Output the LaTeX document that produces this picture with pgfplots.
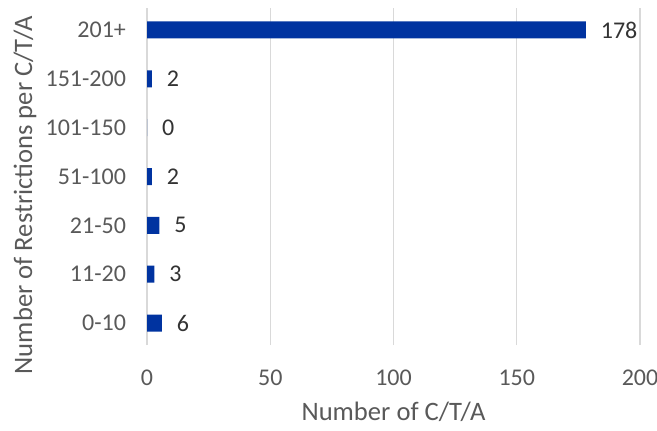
\documentclass[border=0pt]{standalone}
\usepackage{fontspec}
\setmainfont{Carlito}
\usepackage{pgfplots}
\pgfplotsset{compat=1.18}
\definecolor{barblue}{HTML}{0033A0}
\definecolor{txtgray}{HTML}{595959}
\definecolor{gridgray}{HTML}{D9D9D9}
\begin{document}
\begin{tikzpicture}
\path[use as bounding box] (-73.5pt,-42.5pt) rectangle (255pt,172.5pt);
\begin{axis}[
  at={(0,0)}, anchor=south west,
  scale only axis,
  width=246.5pt, height=168.5pt,
  xbar, bar width=8.5pt,
  xmin=0, xmax=200,
  ymin=-0.45, ymax=6.45,
  xtick={0,50,100,150,200},
  ytick={0,...,6},
  yticklabels={0-10,11-20,21-50,51-100,101-150,151-200,201+},
  xmajorgrids, grid style={gridgray, line width=0.6pt},
  axis line style={draw=none},
  major tick length=0pt,
  /pgf/number format/assume math mode=true,
  tick label style={font=\fontsize{12}{14}\selectfont, text=txtgray},
  xticklabel style={yshift=-9pt},
  yticklabel style={xshift=-7pt},
  xlabel={Number of C/T/A},
  ylabel={Number of Restrictions per C/T/A},
  label style={font=\fontsize{13.3}{16}\selectfont, text=txtgray},
  xlabel style={at={(axis description cs:0.5,-0.199)}, anchor=center},
  ylabel style={at={(axis description cs:-0.2475,0.445)}, anchor=center},
  nodes near coords,
  nodes near coords style={font=\fontsize{12}{14}\selectfont, text=black!80, anchor=west, xshift=4pt},
]
\addplot[fill=barblue, draw=none] coordinates {
  (6,0) (3,1) (5,2) (2,3) (0,4) (2,5) (178,6)
};
\end{axis}
\end{tikzpicture}
\end{document}
